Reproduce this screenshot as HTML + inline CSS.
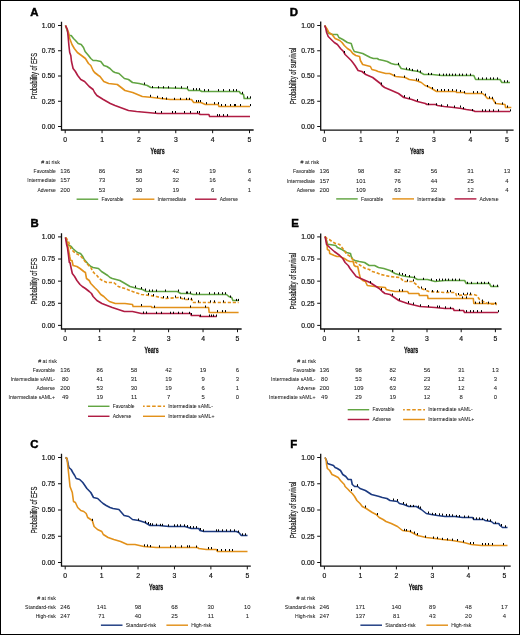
<!DOCTYPE html>
<html><head><meta charset="utf-8"><style>
html,body{margin:0;padding:0;background:#fff;}
body{width:520px;height:635px;overflow:hidden;}
svg{display:block;will-change:transform;font-family:"Liberation Sans", sans-serif;}
</style></head><body>
<svg width="520" height="635" viewBox="0 0 520 635">
<rect x="0" y="0" width="520" height="635" fill="#000"/>
<rect x="1" y="1" width="518" height="633" fill="#fff"/>
<text x="30.3" y="15.9" font-size="11.4" fill="#000" stroke="#000" stroke-width="0.45" font-weight="bold">A</text>
<path d="M61.5 21.8V130H253.65" fill="none" stroke="#111" stroke-width="1.3"/>
<path d="M58 126.5H61.5" stroke="#111" stroke-width="1"/>
<text x="55" y="128.95" font-size="6.8" fill="#111" stroke="#111" stroke-width="0.18" text-anchor="end">0.00</text>
<path d="M58 101.25H61.5" stroke="#111" stroke-width="1"/>
<text x="55" y="103.7" font-size="6.8" fill="#111" stroke="#111" stroke-width="0.18" text-anchor="end">0.25</text>
<path d="M58 76H61.5" stroke="#111" stroke-width="1"/>
<text x="55" y="78.45" font-size="6.8" fill="#111" stroke="#111" stroke-width="0.18" text-anchor="end">0.50</text>
<path d="M58 50.75H61.5" stroke="#111" stroke-width="1"/>
<text x="55" y="53.2" font-size="6.8" fill="#111" stroke="#111" stroke-width="0.18" text-anchor="end">0.75</text>
<path d="M58 25.5H61.5" stroke="#111" stroke-width="1"/>
<text x="55" y="27.95" font-size="6.8" fill="#111" stroke="#111" stroke-width="0.18" text-anchor="end">1.00</text>
<path d="M65.2 130V133.2" stroke="#111" stroke-width="1"/>
<text x="65.2" y="142.35" font-size="6.8" fill="#111" stroke="#111" stroke-width="0.18" text-anchor="middle">0</text>
<path d="M102.06 130V133.2" stroke="#111" stroke-width="1"/>
<text x="102.06" y="142.35" font-size="6.8" fill="#111" stroke="#111" stroke-width="0.18" text-anchor="middle">1</text>
<path d="M138.92 130V133.2" stroke="#111" stroke-width="1"/>
<text x="138.92" y="142.35" font-size="6.8" fill="#111" stroke="#111" stroke-width="0.18" text-anchor="middle">2</text>
<path d="M175.78 130V133.2" stroke="#111" stroke-width="1"/>
<text x="175.78" y="142.35" font-size="6.8" fill="#111" stroke="#111" stroke-width="0.18" text-anchor="middle">3</text>
<path d="M212.64 130V133.2" stroke="#111" stroke-width="1"/>
<text x="212.64" y="142.35" font-size="6.8" fill="#111" stroke="#111" stroke-width="0.18" text-anchor="middle">4</text>
<path d="M249.5 130V133.2" stroke="#111" stroke-width="1"/>
<text x="249.5" y="142.35" font-size="6.8" fill="#111" stroke="#111" stroke-width="0.18" text-anchor="middle">5</text>
<text x="0" y="0" font-size="8.9" fill="#1a1a1a" stroke="#1a1a1a" stroke-width="0.22" text-anchor="middle" textLength="46.3" lengthAdjust="spacingAndGlyphs" transform="translate(36.7 76) rotate(-90)">Probability of EFS</text>
<text x="157.57" y="154.2" font-size="9" fill="#111" stroke="#111" stroke-width="0.3" text-anchor="middle" textLength="14.1" lengthAdjust="spacingAndGlyphs" font-weight="bold">Years</text>
<text x="59.8" y="164" font-size="6.1" fill="#1a1a1a" stroke="#1a1a1a" stroke-width="0.05" text-anchor="end" textLength="18.6" lengthAdjust="spacingAndGlyphs"># at risk</text>
<text x="55.8" y="173.15" font-size="6.1" fill="#1a1a1a" stroke="#1a1a1a" stroke-width="0.05" text-anchor="end" textLength="22.2" lengthAdjust="spacingAndGlyphs">Favorable</text>
<text x="65.2" y="173.05" font-size="5.9" fill="#1a1a1a" stroke="#1a1a1a" stroke-width="0.05" text-anchor="middle">136</text>
<text x="102.06" y="173.05" font-size="5.9" fill="#1a1a1a" stroke="#1a1a1a" stroke-width="0.05" text-anchor="middle">86</text>
<text x="138.92" y="173.05" font-size="5.9" fill="#1a1a1a" stroke="#1a1a1a" stroke-width="0.05" text-anchor="middle">58</text>
<text x="175.78" y="173.05" font-size="5.9" fill="#1a1a1a" stroke="#1a1a1a" stroke-width="0.05" text-anchor="middle">42</text>
<text x="212.64" y="173.05" font-size="5.9" fill="#1a1a1a" stroke="#1a1a1a" stroke-width="0.05" text-anchor="middle">19</text>
<text x="249.5" y="173.05" font-size="5.9" fill="#1a1a1a" stroke="#1a1a1a" stroke-width="0.05" text-anchor="middle">6</text>
<text x="55.8" y="182.45" font-size="6.1" fill="#1a1a1a" stroke="#1a1a1a" stroke-width="0.05" text-anchor="end" textLength="28.5" lengthAdjust="spacingAndGlyphs">Intermediate</text>
<text x="65.2" y="182.35" font-size="5.9" fill="#1a1a1a" stroke="#1a1a1a" stroke-width="0.05" text-anchor="middle">157</text>
<text x="102.06" y="182.35" font-size="5.9" fill="#1a1a1a" stroke="#1a1a1a" stroke-width="0.05" text-anchor="middle">73</text>
<text x="138.92" y="182.35" font-size="5.9" fill="#1a1a1a" stroke="#1a1a1a" stroke-width="0.05" text-anchor="middle">50</text>
<text x="175.78" y="182.35" font-size="5.9" fill="#1a1a1a" stroke="#1a1a1a" stroke-width="0.05" text-anchor="middle">32</text>
<text x="212.64" y="182.35" font-size="5.9" fill="#1a1a1a" stroke="#1a1a1a" stroke-width="0.05" text-anchor="middle">16</text>
<text x="249.5" y="182.35" font-size="5.9" fill="#1a1a1a" stroke="#1a1a1a" stroke-width="0.05" text-anchor="middle">4</text>
<text x="55.8" y="191.75" font-size="6.1" fill="#1a1a1a" stroke="#1a1a1a" stroke-width="0.05" text-anchor="end" textLength="18.4" lengthAdjust="spacingAndGlyphs">Adverse</text>
<text x="65.2" y="191.65" font-size="5.9" fill="#1a1a1a" stroke="#1a1a1a" stroke-width="0.05" text-anchor="middle">200</text>
<text x="102.06" y="191.65" font-size="5.9" fill="#1a1a1a" stroke="#1a1a1a" stroke-width="0.05" text-anchor="middle">53</text>
<text x="138.92" y="191.65" font-size="5.9" fill="#1a1a1a" stroke="#1a1a1a" stroke-width="0.05" text-anchor="middle">30</text>
<text x="175.78" y="191.65" font-size="5.9" fill="#1a1a1a" stroke="#1a1a1a" stroke-width="0.05" text-anchor="middle">19</text>
<text x="212.64" y="191.65" font-size="5.9" fill="#1a1a1a" stroke="#1a1a1a" stroke-width="0.05" text-anchor="middle">6</text>
<text x="249.5" y="191.65" font-size="5.9" fill="#1a1a1a" stroke="#1a1a1a" stroke-width="0.05" text-anchor="middle">1</text>
<path d="M76.6 199.2H98.2" stroke="#62a543" stroke-width="1.45"/>
<text x="101.4" y="200.95" font-size="6.1" fill="#1a1a1a" stroke="#1a1a1a" stroke-width="0.05" textLength="22.2" lengthAdjust="spacingAndGlyphs">Favorable</text>
<path d="M132.6 199.2H154.4" stroke="#e2911a" stroke-width="1.45"/>
<text x="157.6" y="200.95" font-size="6.1" fill="#1a1a1a" stroke="#1a1a1a" stroke-width="0.05" textLength="28.7" lengthAdjust="spacingAndGlyphs">Intermediate</text>
<path d="M195 199.2H216.6" stroke="#b01c43" stroke-width="1.45"/>
<text x="219.8" y="200.95" font-size="6.1" fill="#1a1a1a" stroke="#1a1a1a" stroke-width="0.05" textLength="18.2" lengthAdjust="spacingAndGlyphs">Adverse</text>
<polyline points="65.5,25.5 68.9,35.5 71.2,35.5 73.5,38.5 75.5,40.5 78.2,43.5 81.2,44.5 83.5,47.5 85.1,51.5 88.5,55.5 90.8,58.5 93.1,60.5 96.2,60.5 100.8,61.5 103.8,65.5 106.9,66.5 110,68.5 113,71.5 115,72.5 119,73.5 124.4,78.5 128.5,79.5 132.5,82.5 139.2,83.5 147.3,85.5 150.7,87.5 187.2,88.5 188.7,90.5 200.2,90.5 201.6,91.5 239.2,91.5 240.6,93.5 243.5,94.5 244.2,98.5 250.7,98.5" fill="none" stroke="#62a543" stroke-width="1.6" stroke-linejoin="round"/>
<polyline points="65.5,25.5 68.5,32.5 69.7,38.5 72,44.5 74.3,48.5 77.4,52.5 81.5,55.5 85.4,58.5 88.5,63.5 90.8,65.5 93.1,70.5 94.6,72.5 98.5,75.5 100,76.5 103.8,81.5 108.7,83.5 117.3,84.5 121.2,87.5 125,90.5 132.7,92.5 142.3,96.5 152.7,97.5 160.8,98.5 170.2,99.5 191.5,99.5 193.7,102.5 200.9,102.5 205.3,104.5 218.2,104.5 219,106.5 250,106.5" fill="none" stroke="#e2911a" stroke-width="1.6" stroke-linejoin="round"/>
<polyline points="65.5,25.5 67.4,29.5 68.2,37.5 68.9,45.5 69.7,52.5 70.8,55.5 71.5,61.5 73.1,68.5 75.4,71.5 77.7,75.5 80.8,79.5 84.6,81.5 89.2,86.5 93.1,89.5 94.6,92.5 96.9,95.5 103.3,99.5 110.3,103.5 115,105.5 120.4,107.5 128.5,110.5 136.5,111.5 147.3,112.5 158,113.5 198.8,113.5 200.2,114.5 208.9,114.5 209.6,116.5 250,116.5" fill="none" stroke="#b01c43" stroke-width="1.6" stroke-linejoin="round"/>
<path d="M144.5 82.5V84.6" stroke="#000" stroke-width="1.05"/>
<path d="M152.5 86V88.1" stroke="#000" stroke-width="1.05"/>
<path d="M158.5 86.2V88.3" stroke="#000" stroke-width="1.05"/>
<path d="M163.5 86.2V88.3" stroke="#000" stroke-width="1.05"/>
<path d="M168.5 86.2V88.3" stroke="#000" stroke-width="1.05"/>
<path d="M175.5 86.2V88.3" stroke="#000" stroke-width="1.05"/>
<path d="M181.5 86.2V88.3" stroke="#000" stroke-width="1.05"/>
<path d="M187.5 86.2V88.3" stroke="#000" stroke-width="1.05"/>
<path d="M193.5 88.1V90.2" stroke="#000" stroke-width="1.05"/>
<path d="M196.5 88.1V90.2" stroke="#000" stroke-width="1.05"/>
<path d="M199.5 88.1V90.2" stroke="#000" stroke-width="1.05"/>
<path d="M204.5 89.1V91.2" stroke="#000" stroke-width="1.05"/>
<path d="M208.5 89.1V91.2" stroke="#000" stroke-width="1.05"/>
<path d="M218.5 89.1V91.2" stroke="#000" stroke-width="1.05"/>
<path d="M223.5 89.1V91.2" stroke="#000" stroke-width="1.05"/>
<path d="M229.5 89.1V91.2" stroke="#000" stroke-width="1.05"/>
<path d="M233.5 89.1V91.2" stroke="#000" stroke-width="1.05"/>
<path d="M236.5 89.1V91.2" stroke="#000" stroke-width="1.05"/>
<path d="M242.5 91.8V93.9" stroke="#000" stroke-width="1.05"/>
<path d="M247.5 96.3V98.4" stroke="#000" stroke-width="1.05"/>
<path d="M250.5 96.3V98.4" stroke="#000" stroke-width="1.05"/>
<path d="M150.5 94.8V96.9" stroke="#000" stroke-width="1.05"/>
<path d="M157.5 95.8V97.9" stroke="#000" stroke-width="1.05"/>
<path d="M162.5 97V99.1" stroke="#000" stroke-width="1.05"/>
<path d="M166.5 97.5V99.6" stroke="#000" stroke-width="1.05"/>
<path d="M174.5 97.8V99.9" stroke="#000" stroke-width="1.05"/>
<path d="M180.5 97.8V99.9" stroke="#000" stroke-width="1.05"/>
<path d="M186.5 97.8V99.9" stroke="#000" stroke-width="1.05"/>
<path d="M189.5 97.8V99.9" stroke="#000" stroke-width="1.05"/>
<path d="M196.5 100V102.1" stroke="#000" stroke-width="1.05"/>
<path d="M198.5 100V102.1" stroke="#000" stroke-width="1.05"/>
<path d="M200.5 100V102.1" stroke="#000" stroke-width="1.05"/>
<path d="M206.5 102.1V104.2" stroke="#000" stroke-width="1.05"/>
<path d="M214.5 102.1V104.2" stroke="#000" stroke-width="1.05"/>
<path d="M218.5 102.1V104.2" stroke="#000" stroke-width="1.05"/>
<path d="M221.5 104V106.1" stroke="#000" stroke-width="1.05"/>
<path d="M225.5 104V106.1" stroke="#000" stroke-width="1.05"/>
<path d="M230.5 104V106.1" stroke="#000" stroke-width="1.05"/>
<path d="M234.5 104V106.1" stroke="#000" stroke-width="1.05"/>
<path d="M235.5 104V106.1" stroke="#000" stroke-width="1.05"/>
<path d="M240.5 104V106.1" stroke="#000" stroke-width="1.05"/>
<path d="M250.5 104V106.1" stroke="#000" stroke-width="1.05"/>
<path d="M155.5 111V113.1" stroke="#000" stroke-width="1.05"/>
<path d="M161.5 111V113.1" stroke="#000" stroke-width="1.05"/>
<path d="M172.5 111V113.1" stroke="#000" stroke-width="1.05"/>
<path d="M175.5 111V113.1" stroke="#000" stroke-width="1.05"/>
<path d="M184.5 111V113.1" stroke="#000" stroke-width="1.05"/>
<path d="M190.5 111V113.1" stroke="#000" stroke-width="1.05"/>
<path d="M197.5 111V113.1" stroke="#000" stroke-width="1.05"/>
<path d="M199.5 111V113.1" stroke="#000" stroke-width="1.05"/>
<path d="M217.5 114.1V116.2" stroke="#000" stroke-width="1.05"/>
<path d="M219.5 114.1V116.2" stroke="#000" stroke-width="1.05"/>
<path d="M223.5 114.1V116.2" stroke="#000" stroke-width="1.05"/>
<path d="M227.5 114.1V116.2" stroke="#000" stroke-width="1.05"/>
<text x="289.8" y="16.1" font-size="11.4" fill="#000" stroke="#000" stroke-width="0.45" font-weight="bold">D</text>
<path d="M320.7 21.5V130.2H513.6" fill="none" stroke="#111" stroke-width="1.3"/>
<path d="M317.2 126.5H320.7" stroke="#111" stroke-width="1"/>
<text x="314.5" y="128.95" font-size="6.8" fill="#111" stroke="#111" stroke-width="0.18" text-anchor="end">0.00</text>
<path d="M317.2 101.25H320.7" stroke="#111" stroke-width="1"/>
<text x="314.5" y="103.7" font-size="6.8" fill="#111" stroke="#111" stroke-width="0.18" text-anchor="end">0.25</text>
<path d="M317.2 76H320.7" stroke="#111" stroke-width="1"/>
<text x="314.5" y="78.45" font-size="6.8" fill="#111" stroke="#111" stroke-width="0.18" text-anchor="end">0.50</text>
<path d="M317.2 50.75H320.7" stroke="#111" stroke-width="1"/>
<text x="314.5" y="53.2" font-size="6.8" fill="#111" stroke="#111" stroke-width="0.18" text-anchor="end">0.75</text>
<path d="M317.2 25.5H320.7" stroke="#111" stroke-width="1"/>
<text x="314.5" y="27.95" font-size="6.8" fill="#111" stroke="#111" stroke-width="0.18" text-anchor="end">1.00</text>
<path d="M324.4 130.2V133.4" stroke="#111" stroke-width="1"/>
<text x="324.4" y="142.35" font-size="6.8" fill="#111" stroke="#111" stroke-width="0.18" text-anchor="middle">0</text>
<path d="M360.92 130.2V133.4" stroke="#111" stroke-width="1"/>
<text x="360.92" y="142.35" font-size="6.8" fill="#111" stroke="#111" stroke-width="0.18" text-anchor="middle">1</text>
<path d="M397.44 130.2V133.4" stroke="#111" stroke-width="1"/>
<text x="397.44" y="142.35" font-size="6.8" fill="#111" stroke="#111" stroke-width="0.18" text-anchor="middle">2</text>
<path d="M433.96 130.2V133.4" stroke="#111" stroke-width="1"/>
<text x="433.96" y="142.35" font-size="6.8" fill="#111" stroke="#111" stroke-width="0.18" text-anchor="middle">3</text>
<path d="M470.48 130.2V133.4" stroke="#111" stroke-width="1"/>
<text x="470.48" y="142.35" font-size="6.8" fill="#111" stroke="#111" stroke-width="0.18" text-anchor="middle">4</text>
<path d="M507 130.2V133.4" stroke="#111" stroke-width="1"/>
<text x="507" y="142.35" font-size="6.8" fill="#111" stroke="#111" stroke-width="0.18" text-anchor="middle">5</text>
<text x="0" y="0" font-size="8.9" fill="#1a1a1a" stroke="#1a1a1a" stroke-width="0.22" text-anchor="middle" textLength="56.7" lengthAdjust="spacingAndGlyphs" transform="translate(296 76) rotate(-90)">Probability of survival</text>
<text x="417.15" y="154.2" font-size="9" fill="#111" stroke="#111" stroke-width="0.3" text-anchor="middle" textLength="14.1" lengthAdjust="spacingAndGlyphs" font-weight="bold">Years</text>
<text x="319.2" y="164.4" font-size="6.1" fill="#1a1a1a" stroke="#1a1a1a" stroke-width="0.05" text-anchor="end" textLength="18.6" lengthAdjust="spacingAndGlyphs"># at risk</text>
<text x="315.1" y="173.35" font-size="6.1" fill="#1a1a1a" stroke="#1a1a1a" stroke-width="0.05" text-anchor="end" textLength="22" lengthAdjust="spacingAndGlyphs">Favorable</text>
<text x="324.4" y="173.25" font-size="5.9" fill="#1a1a1a" stroke="#1a1a1a" stroke-width="0.05" text-anchor="middle">136</text>
<text x="360.92" y="173.25" font-size="5.9" fill="#1a1a1a" stroke="#1a1a1a" stroke-width="0.05" text-anchor="middle">98</text>
<text x="397.44" y="173.25" font-size="5.9" fill="#1a1a1a" stroke="#1a1a1a" stroke-width="0.05" text-anchor="middle">82</text>
<text x="433.96" y="173.25" font-size="5.9" fill="#1a1a1a" stroke="#1a1a1a" stroke-width="0.05" text-anchor="middle">56</text>
<text x="470.48" y="173.25" font-size="5.9" fill="#1a1a1a" stroke="#1a1a1a" stroke-width="0.05" text-anchor="middle">31</text>
<text x="507" y="173.25" font-size="5.9" fill="#1a1a1a" stroke="#1a1a1a" stroke-width="0.05" text-anchor="middle">13</text>
<text x="315.1" y="182.65" font-size="6.1" fill="#1a1a1a" stroke="#1a1a1a" stroke-width="0.05" text-anchor="end" textLength="28.2" lengthAdjust="spacingAndGlyphs">Intermediate</text>
<text x="324.4" y="182.55" font-size="5.9" fill="#1a1a1a" stroke="#1a1a1a" stroke-width="0.05" text-anchor="middle">157</text>
<text x="360.92" y="182.55" font-size="5.9" fill="#1a1a1a" stroke="#1a1a1a" stroke-width="0.05" text-anchor="middle">101</text>
<text x="397.44" y="182.55" font-size="5.9" fill="#1a1a1a" stroke="#1a1a1a" stroke-width="0.05" text-anchor="middle">76</text>
<text x="433.96" y="182.55" font-size="5.9" fill="#1a1a1a" stroke="#1a1a1a" stroke-width="0.05" text-anchor="middle">44</text>
<text x="470.48" y="182.55" font-size="5.9" fill="#1a1a1a" stroke="#1a1a1a" stroke-width="0.05" text-anchor="middle">25</text>
<text x="507" y="182.55" font-size="5.9" fill="#1a1a1a" stroke="#1a1a1a" stroke-width="0.05" text-anchor="middle">4</text>
<text x="315.1" y="191.85" font-size="6.1" fill="#1a1a1a" stroke="#1a1a1a" stroke-width="0.05" text-anchor="end" textLength="18.4" lengthAdjust="spacingAndGlyphs">Adverse</text>
<text x="324.4" y="191.75" font-size="5.9" fill="#1a1a1a" stroke="#1a1a1a" stroke-width="0.05" text-anchor="middle">200</text>
<text x="360.92" y="191.75" font-size="5.9" fill="#1a1a1a" stroke="#1a1a1a" stroke-width="0.05" text-anchor="middle">109</text>
<text x="397.44" y="191.75" font-size="5.9" fill="#1a1a1a" stroke="#1a1a1a" stroke-width="0.05" text-anchor="middle">63</text>
<text x="433.96" y="191.75" font-size="5.9" fill="#1a1a1a" stroke="#1a1a1a" stroke-width="0.05" text-anchor="middle">32</text>
<text x="470.48" y="191.75" font-size="5.9" fill="#1a1a1a" stroke="#1a1a1a" stroke-width="0.05" text-anchor="middle">12</text>
<text x="507" y="191.75" font-size="5.9" fill="#1a1a1a" stroke="#1a1a1a" stroke-width="0.05" text-anchor="middle">4</text>
<path d="M336.2 198.9H357.7" stroke="#62a543" stroke-width="1.45"/>
<text x="360.9" y="200.65" font-size="6.1" fill="#1a1a1a" stroke="#1a1a1a" stroke-width="0.05" textLength="22.4" lengthAdjust="spacingAndGlyphs">Favorable</text>
<path d="M392.3 198.9H414" stroke="#e2911a" stroke-width="1.45"/>
<text x="417.2" y="200.65" font-size="6.1" fill="#1a1a1a" stroke="#1a1a1a" stroke-width="0.05" textLength="28.5" lengthAdjust="spacingAndGlyphs">Intermediate</text>
<path d="M454.6 198.9H476.4" stroke="#b01c43" stroke-width="1.45"/>
<text x="479.6" y="200.65" font-size="6.1" fill="#1a1a1a" stroke="#1a1a1a" stroke-width="0.05" textLength="19" lengthAdjust="spacingAndGlyphs">Adverse</text>
<polyline points="324.7,25.5 327,30.5 328.9,33.5 332.8,34.5 337.4,34.5 338.9,37.5 342.8,39.5 347.4,42.5 351.2,43.5 352.8,48.5 354.3,51.5 358.8,52.5 362.7,53.5 366.5,55.5 370.4,57.5 373.5,58.5 377.3,58.5 378.8,59.5 383.5,60.5 387.3,61.5 391.2,63.5 395,64.5 398.5,64.5 401.2,68.5 406.5,69.5 411.9,70.5 418.6,71.5 424,74.5 432.1,74.5 441.5,75.5 473.8,75.5 475.6,79.5 500,79.5 501.9,82.5 510,82.5" fill="none" stroke="#62a543" stroke-width="1.6" stroke-linejoin="round"/>
<polyline points="324.7,25.5 327.4,29.5 328.9,32.5 332,34.5 335.1,38.5 339.7,40.5 342,42.5 344.3,45.5 347.4,48.5 350.5,50.5 352.8,53.5 355.8,55.5 359.6,56.5 360.4,60.5 362.7,64.5 366.5,65.5 370.4,66.5 371.9,69.5 375.8,70.5 378.1,71.5 381.9,72.5 385.8,73.5 389.6,73.5 391.9,74.5 395.8,76.5 405.2,77.5 409.2,79.5 416,80.5 421.3,82.5 425,85.5 427.9,86.5 431.7,88.5 436.5,91.5 455.8,91.5 456.7,92.5 464.4,92.5 465.4,93.5 482.5,93.5 485,95.5 487.5,98.5 492.5,98.5 495.6,103.5 505,104.5 505.6,107.5 511.3,107.5" fill="none" stroke="#e2911a" stroke-width="1.6" stroke-linejoin="round"/>
<polyline points="324.7,25.5 325.8,28.5 326.6,32.5 328.2,36.5 331.2,39.5 334.3,42.5 337.4,44.5 340.5,48.5 343.5,51.5 345.1,54.5 348.2,57.5 351.2,60.5 352.8,62.5 355,65.5 358.1,70.5 361.9,71.5 365.8,74.5 370.4,76.5 372.7,77.5 376.5,80.5 380.4,83.5 381.9,85.5 384.6,87.5 391.7,90.5 398.5,93.5 403.8,97.5 411.9,99.5 417.3,101.5 425.4,103.5 426.9,104.5 435.6,104.5 437.5,105.5 444.2,106.5 453.8,107.5 461.5,108.5 466.3,109.5 473.1,110.5 475,111.5 510,111.5" fill="none" stroke="#b01c43" stroke-width="1.6" stroke-linejoin="round"/>
<path d="M398.5 62.8V64.9" stroke="#000" stroke-width="1.05"/>
<path d="M406.5 67.5V69.6" stroke="#000" stroke-width="1.05"/>
<path d="M409.5 68V70.1" stroke="#000" stroke-width="1.05"/>
<path d="M412.5 68.9V71" stroke="#000" stroke-width="1.05"/>
<path d="M417.5 69.5V71.6" stroke="#000" stroke-width="1.05"/>
<path d="M420.5 70.5V72.6" stroke="#000" stroke-width="1.05"/>
<path d="M428.5 72.9V75" stroke="#000" stroke-width="1.05"/>
<path d="M431.5 72.9V75" stroke="#000" stroke-width="1.05"/>
<path d="M439.5 73.6V75.7" stroke="#000" stroke-width="1.05"/>
<path d="M443.5 73.6V75.7" stroke="#000" stroke-width="1.05"/>
<path d="M446.5 73.6V75.7" stroke="#000" stroke-width="1.05"/>
<path d="M449.5 73.6V75.7" stroke="#000" stroke-width="1.05"/>
<path d="M452.5 73.6V75.7" stroke="#000" stroke-width="1.05"/>
<path d="M455.5 73.6V75.7" stroke="#000" stroke-width="1.05"/>
<path d="M459.5 73.6V75.7" stroke="#000" stroke-width="1.05"/>
<path d="M462.5 73.6V75.7" stroke="#000" stroke-width="1.05"/>
<path d="M466.5 73.6V75.7" stroke="#000" stroke-width="1.05"/>
<path d="M470.5 73.6V75.7" stroke="#000" stroke-width="1.05"/>
<path d="M478.5 77.4V79.5" stroke="#000" stroke-width="1.05"/>
<path d="M482.5 77.4V79.5" stroke="#000" stroke-width="1.05"/>
<path d="M486.5 77.4V79.5" stroke="#000" stroke-width="1.05"/>
<path d="M490.5 77.4V79.5" stroke="#000" stroke-width="1.05"/>
<path d="M493.5 77.4V79.5" stroke="#000" stroke-width="1.05"/>
<path d="M497.5 77.4V79.5" stroke="#000" stroke-width="1.05"/>
<path d="M504.5 80.3V82.4" stroke="#000" stroke-width="1.05"/>
<path d="M507.5 80.3V82.4" stroke="#000" stroke-width="1.05"/>
<path d="M394.5 74.2V76.3" stroke="#000" stroke-width="1.05"/>
<path d="M404.5 75.6V77.7" stroke="#000" stroke-width="1.05"/>
<path d="M416.5 78.3V80.4" stroke="#000" stroke-width="1.05"/>
<path d="M418.5 78.8V80.9" stroke="#000" stroke-width="1.05"/>
<path d="M427.5 85V87.1" stroke="#000" stroke-width="1.05"/>
<path d="M432.5 87V89.1" stroke="#000" stroke-width="1.05"/>
<path d="M437.5 89V91.1" stroke="#000" stroke-width="1.05"/>
<path d="M441.5 89V91.1" stroke="#000" stroke-width="1.05"/>
<path d="M444.5 89V91.1" stroke="#000" stroke-width="1.05"/>
<path d="M448.5 89V91.1" stroke="#000" stroke-width="1.05"/>
<path d="M452.5 89V91.1" stroke="#000" stroke-width="1.05"/>
<path d="M456.5 89.3V91.4" stroke="#000" stroke-width="1.05"/>
<path d="M460.5 90V92.1" stroke="#000" stroke-width="1.05"/>
<path d="M464.5 91.1V93.2" stroke="#000" stroke-width="1.05"/>
<path d="M473.5 91.1V93.2" stroke="#000" stroke-width="1.05"/>
<path d="M477.5 91.1V93.2" stroke="#000" stroke-width="1.05"/>
<path d="M481.5 91.1V93.2" stroke="#000" stroke-width="1.05"/>
<path d="M485.5 93.6V95.7" stroke="#000" stroke-width="1.05"/>
<path d="M489.5 96.4V98.5" stroke="#000" stroke-width="1.05"/>
<path d="M492.5 96.8V98.9" stroke="#000" stroke-width="1.05"/>
<path d="M495.5 101.8V103.9" stroke="#000" stroke-width="1.05"/>
<path d="M502.5 102.4V104.5" stroke="#000" stroke-width="1.05"/>
<path d="M507.5 105.5V107.6" stroke="#000" stroke-width="1.05"/>
<path d="M344.5 51V53.1" stroke="#000" stroke-width="1.05"/>
<path d="M364.5 71V73.1" stroke="#000" stroke-width="1.05"/>
<path d="M381.5 82.5V84.6" stroke="#000" stroke-width="1.05"/>
<path d="M404.5 95.1V97.2" stroke="#000" stroke-width="1.05"/>
<path d="M409.5 96.8V98.9" stroke="#000" stroke-width="1.05"/>
<path d="M417.5 99V101.1" stroke="#000" stroke-width="1.05"/>
<path d="M428.5 103V105.1" stroke="#000" stroke-width="1.05"/>
<path d="M436.5 103.2V105.3" stroke="#000" stroke-width="1.05"/>
<path d="M441.5 104.3V106.4" stroke="#000" stroke-width="1.05"/>
<path d="M447.5 104.3V106.4" stroke="#000" stroke-width="1.05"/>
<path d="M454.5 105.5V107.6" stroke="#000" stroke-width="1.05"/>
<path d="M460.5 105.5V107.6" stroke="#000" stroke-width="1.05"/>
<path d="M463.5 107V109.1" stroke="#000" stroke-width="1.05"/>
<path d="M472.5 109V111.1" stroke="#000" stroke-width="1.05"/>
<path d="M482.5 109.3V111.4" stroke="#000" stroke-width="1.05"/>
<path d="M485.5 109.3V111.4" stroke="#000" stroke-width="1.05"/>
<path d="M489.5 109.3V111.4" stroke="#000" stroke-width="1.05"/>
<path d="M493.5 109.3V111.4" stroke="#000" stroke-width="1.05"/>
<path d="M498.5 109.3V111.4" stroke="#000" stroke-width="1.05"/>
<path d="M510.5 109.3V111.4" stroke="#000" stroke-width="1.05"/>
<text x="30.6" y="226.9" font-size="11.4" fill="#000" stroke="#000" stroke-width="0.45" font-weight="bold">B</text>
<path d="M61.5 233.2V329H241.65" fill="none" stroke="#111" stroke-width="1.3"/>
<path d="M58 325.4H61.5" stroke="#111" stroke-width="1"/>
<text x="55" y="327.85" font-size="6.8" fill="#111" stroke="#111" stroke-width="0.18" text-anchor="end">0.00</text>
<path d="M58 303.27H61.5" stroke="#111" stroke-width="1"/>
<text x="55" y="305.72" font-size="6.8" fill="#111" stroke="#111" stroke-width="0.18" text-anchor="end">0.25</text>
<path d="M58 281.15H61.5" stroke="#111" stroke-width="1"/>
<text x="55" y="283.6" font-size="6.8" fill="#111" stroke="#111" stroke-width="0.18" text-anchor="end">0.50</text>
<path d="M58 259.02H61.5" stroke="#111" stroke-width="1"/>
<text x="55" y="261.47" font-size="6.8" fill="#111" stroke="#111" stroke-width="0.18" text-anchor="end">0.75</text>
<path d="M58 236.9H61.5" stroke="#111" stroke-width="1"/>
<text x="55" y="239.35" font-size="6.8" fill="#111" stroke="#111" stroke-width="0.18" text-anchor="end">1.00</text>
<path d="M65.2 329V332.2" stroke="#111" stroke-width="1"/>
<text x="65.2" y="341.35" font-size="6.8" fill="#111" stroke="#111" stroke-width="0.18" text-anchor="middle">0</text>
<path d="M99.66 329V332.2" stroke="#111" stroke-width="1"/>
<text x="99.66" y="341.35" font-size="6.8" fill="#111" stroke="#111" stroke-width="0.18" text-anchor="middle">1</text>
<path d="M134.12 329V332.2" stroke="#111" stroke-width="1"/>
<text x="134.12" y="341.35" font-size="6.8" fill="#111" stroke="#111" stroke-width="0.18" text-anchor="middle">2</text>
<path d="M168.58 329V332.2" stroke="#111" stroke-width="1"/>
<text x="168.58" y="341.35" font-size="6.8" fill="#111" stroke="#111" stroke-width="0.18" text-anchor="middle">3</text>
<path d="M203.04 329V332.2" stroke="#111" stroke-width="1"/>
<text x="203.04" y="341.35" font-size="6.8" fill="#111" stroke="#111" stroke-width="0.18" text-anchor="middle">4</text>
<path d="M237.5 329V332.2" stroke="#111" stroke-width="1"/>
<text x="237.5" y="341.35" font-size="6.8" fill="#111" stroke="#111" stroke-width="0.18" text-anchor="middle">5</text>
<text x="0" y="0" font-size="8.9" fill="#1a1a1a" stroke="#1a1a1a" stroke-width="0.22" text-anchor="middle" textLength="46.6" lengthAdjust="spacingAndGlyphs" transform="translate(36.7 281.15) rotate(-90)">Probability of EFS</text>
<text x="151.57" y="352.9" font-size="9" fill="#111" stroke="#111" stroke-width="0.3" text-anchor="middle" textLength="14.1" lengthAdjust="spacingAndGlyphs" font-weight="bold">Years</text>
<text x="56.8" y="363.3" font-size="6.1" fill="#1a1a1a" stroke="#1a1a1a" stroke-width="0.05" text-anchor="end" textLength="18.6" lengthAdjust="spacingAndGlyphs"># at risk</text>
<text x="55" y="371.95" font-size="6.1" fill="#1a1a1a" stroke="#1a1a1a" stroke-width="0.05" text-anchor="end" textLength="22.2" lengthAdjust="spacingAndGlyphs">Favorable</text>
<text x="65.2" y="371.85" font-size="5.9" fill="#1a1a1a" stroke="#1a1a1a" stroke-width="0.05" text-anchor="middle">136</text>
<text x="99.66" y="371.85" font-size="5.9" fill="#1a1a1a" stroke="#1a1a1a" stroke-width="0.05" text-anchor="middle">86</text>
<text x="134.12" y="371.85" font-size="5.9" fill="#1a1a1a" stroke="#1a1a1a" stroke-width="0.05" text-anchor="middle">58</text>
<text x="168.58" y="371.85" font-size="5.9" fill="#1a1a1a" stroke="#1a1a1a" stroke-width="0.05" text-anchor="middle">42</text>
<text x="203.04" y="371.85" font-size="5.9" fill="#1a1a1a" stroke="#1a1a1a" stroke-width="0.05" text-anchor="middle">19</text>
<text x="237.5" y="371.85" font-size="5.9" fill="#1a1a1a" stroke="#1a1a1a" stroke-width="0.05" text-anchor="middle">6</text>
<text x="55" y="381.05" font-size="6.1" fill="#1a1a1a" stroke="#1a1a1a" stroke-width="0.05" text-anchor="end" textLength="44.3" lengthAdjust="spacingAndGlyphs">Intermediate sAML-</text>
<text x="65.2" y="380.95" font-size="5.9" fill="#1a1a1a" stroke="#1a1a1a" stroke-width="0.05" text-anchor="middle">80</text>
<text x="99.66" y="380.95" font-size="5.9" fill="#1a1a1a" stroke="#1a1a1a" stroke-width="0.05" text-anchor="middle">41</text>
<text x="134.12" y="380.95" font-size="5.9" fill="#1a1a1a" stroke="#1a1a1a" stroke-width="0.05" text-anchor="middle">31</text>
<text x="168.58" y="380.95" font-size="5.9" fill="#1a1a1a" stroke="#1a1a1a" stroke-width="0.05" text-anchor="middle">19</text>
<text x="203.04" y="380.95" font-size="5.9" fill="#1a1a1a" stroke="#1a1a1a" stroke-width="0.05" text-anchor="middle">9</text>
<text x="237.5" y="380.95" font-size="5.9" fill="#1a1a1a" stroke="#1a1a1a" stroke-width="0.05" text-anchor="middle">3</text>
<text x="55" y="389.95" font-size="6.1" fill="#1a1a1a" stroke="#1a1a1a" stroke-width="0.05" text-anchor="end" textLength="18.4" lengthAdjust="spacingAndGlyphs">Adverse</text>
<text x="65.2" y="389.85" font-size="5.9" fill="#1a1a1a" stroke="#1a1a1a" stroke-width="0.05" text-anchor="middle">200</text>
<text x="99.66" y="389.85" font-size="5.9" fill="#1a1a1a" stroke="#1a1a1a" stroke-width="0.05" text-anchor="middle">53</text>
<text x="134.12" y="389.85" font-size="5.9" fill="#1a1a1a" stroke="#1a1a1a" stroke-width="0.05" text-anchor="middle">30</text>
<text x="168.58" y="389.85" font-size="5.9" fill="#1a1a1a" stroke="#1a1a1a" stroke-width="0.05" text-anchor="middle">19</text>
<text x="203.04" y="389.85" font-size="5.9" fill="#1a1a1a" stroke="#1a1a1a" stroke-width="0.05" text-anchor="middle">6</text>
<text x="237.5" y="389.85" font-size="5.9" fill="#1a1a1a" stroke="#1a1a1a" stroke-width="0.05" text-anchor="middle">1</text>
<text x="55" y="398.85" font-size="6.1" fill="#1a1a1a" stroke="#1a1a1a" stroke-width="0.05" text-anchor="end" textLength="46.4" lengthAdjust="spacingAndGlyphs">Intermediate sAML+</text>
<text x="65.2" y="398.75" font-size="5.9" fill="#1a1a1a" stroke="#1a1a1a" stroke-width="0.05" text-anchor="middle">49</text>
<text x="99.66" y="398.75" font-size="5.9" fill="#1a1a1a" stroke="#1a1a1a" stroke-width="0.05" text-anchor="middle">19</text>
<text x="134.12" y="398.75" font-size="5.9" fill="#1a1a1a" stroke="#1a1a1a" stroke-width="0.05" text-anchor="middle">11</text>
<text x="168.58" y="398.75" font-size="5.9" fill="#1a1a1a" stroke="#1a1a1a" stroke-width="0.05" text-anchor="middle">7</text>
<text x="203.04" y="398.75" font-size="5.9" fill="#1a1a1a" stroke="#1a1a1a" stroke-width="0.05" text-anchor="middle">5</text>
<text x="237.5" y="398.75" font-size="5.9" fill="#1a1a1a" stroke="#1a1a1a" stroke-width="0.05" text-anchor="middle">0</text>
<path d="M88 406.3H109.5" stroke="#62a543" stroke-width="1.45"/>
<text x="112.7" y="408.05" font-size="6.1" fill="#1a1a1a" stroke="#1a1a1a" stroke-width="0.05" textLength="21.8" lengthAdjust="spacingAndGlyphs">Favorable</text>
<path d="M143 406.3H165" stroke="#e2911a" stroke-width="1.45" stroke-dasharray="3.6 1.9" stroke-dashoffset="1.9"/>
<text x="168.2" y="408.05" font-size="6.1" fill="#1a1a1a" stroke="#1a1a1a" stroke-width="0.05" textLength="44.7" lengthAdjust="spacingAndGlyphs">Intermediate sAML-</text>
<path d="M88 416.3H109.5" stroke="#b01c43" stroke-width="1.45"/>
<text x="112.7" y="418.05" font-size="6.1" fill="#1a1a1a" stroke="#1a1a1a" stroke-width="0.05" textLength="18.7" lengthAdjust="spacingAndGlyphs">Adverse</text>
<path d="M143 416.3H165" stroke="#e2911a" stroke-width="1.45"/>
<text x="168.2" y="418.05" font-size="6.1" fill="#1a1a1a" stroke="#1a1a1a" stroke-width="0.05" textLength="46.2" lengthAdjust="spacingAndGlyphs">Intermediate sAML+</text>
<polyline points="65.5,237.5 66.6,240.5 67.8,244.5 69.3,245.5 71.2,246.5 72.8,248.5 75.1,250.5 77.4,252.5 80.5,253.5 82.8,256.5 84.3,259.5 87.7,263.5 90.8,266.5 93.1,267.5 98.5,268.5 101.5,271.5 104.6,273.5 107.7,275.5 110,277.5 112.3,278.5 119.8,280.5 125,283.5 130,286.5 137.5,288.5 142.5,289.5 146.3,291.5 177.5,291.5 180.6,293.5 190,293.5 193.1,294.5 226.5,294.5 228.8,296.5 231.7,297.5 232.9,300.5 238.6,300.5" fill="none" stroke="#62a543" stroke-width="1.6" stroke-linejoin="round"/>
<polyline points="65.5,237.5 68.2,240.5 70.8,248.5 73.5,251.5 76.2,253.5 79.7,255.5 82,257.5 86,262.5 91.5,268.5 91.9,270.5 94.6,273.5 96.9,275.5 99.2,278.5 102.3,280.5 106.9,282.5 113.8,282.5 118.3,286.5 125,288.5 132.5,291.5 141.3,294.5 150,295.5 156.3,296.5 165,298.5 178.8,297.5 185,299.5 191.9,299.5 192.5,302.5 238.6,302.5" fill="none" stroke="#e2911a" stroke-width="1.6" stroke-linejoin="round" stroke-dasharray="3.2 1.8"/>
<polyline points="65.5,237.5 67.5,244.5 68.5,249.5 69.7,256.5 70.5,260.5 72,260.5 73.1,265.5 76.9,266.5 80,268.5 83.8,271.5 85.4,272.5 86.5,278.5 89.2,280.5 90.8,283.5 94.6,287.5 97.7,290.5 100.8,294.5 103.8,296.5 106.9,299.5 109.4,301.5 115.3,303.5 125,303.5 132.5,304.5 133.1,306.5 151.3,306.5 151.9,307.5 208.6,307.5 209.2,312.5 238.6,312.5" fill="none" stroke="#e2911a" stroke-width="1.6" stroke-linejoin="round"/>
<polyline points="65.5,237.5 66.6,244.5 67.4,247.5 68.5,255.5 69.3,262.5 70,262.5 70.8,266.5 72.3,273.5 74.6,276.5 76.9,280.5 80,284.5 82.3,286.5 85.4,288.5 89.2,291.5 91.5,293.5 93.1,296.5 96.9,300.5 101.9,303.5 112.3,307.5 124.3,311.5 132.5,311.5 141.3,313.5 152.5,313.5 190.8,313.5 191.3,315.5 199.4,315.5 200,316.5 216.7,316.5" fill="none" stroke="#b01c43" stroke-width="1.6" stroke-linejoin="round"/>
<path d="M135.5 285.5V287.6" stroke="#000" stroke-width="1.05"/>
<path d="M141.5 287V289.1" stroke="#000" stroke-width="1.05"/>
<path d="M145.5 288.5V290.6" stroke="#000" stroke-width="1.05"/>
<path d="M149.5 289.5V291.6" stroke="#000" stroke-width="1.05"/>
<path d="M152.5 289.5V291.6" stroke="#000" stroke-width="1.05"/>
<path d="M156.5 289.5V291.6" stroke="#000" stroke-width="1.05"/>
<path d="M165.5 289.5V291.6" stroke="#000" stroke-width="1.05"/>
<path d="M178.5 289.5V291.6" stroke="#000" stroke-width="1.05"/>
<path d="M186.5 291.5V293.6" stroke="#000" stroke-width="1.05"/>
<path d="M187.5 291.5V293.6" stroke="#000" stroke-width="1.05"/>
<path d="M190.5 291.5V293.6" stroke="#000" stroke-width="1.05"/>
<path d="M196.5 292.2V294.3" stroke="#000" stroke-width="1.05"/>
<path d="M199.5 292.2V294.3" stroke="#000" stroke-width="1.05"/>
<path d="M209.5 292.2V294.3" stroke="#000" stroke-width="1.05"/>
<path d="M214.5 292.2V294.3" stroke="#000" stroke-width="1.05"/>
<path d="M218.5 292.2V294.3" stroke="#000" stroke-width="1.05"/>
<path d="M222.5 292.2V294.3" stroke="#000" stroke-width="1.05"/>
<path d="M225.5 292.2V294.3" stroke="#000" stroke-width="1.05"/>
<path d="M230.5 295.5V297.6" stroke="#000" stroke-width="1.05"/>
<path d="M236.5 298.9V301" stroke="#000" stroke-width="1.05"/>
<path d="M238.5 298.9V301" stroke="#000" stroke-width="1.05"/>
<path d="M148.5 293V295.1" stroke="#000" stroke-width="1.05"/>
<path d="M153.5 294V296.1" stroke="#000" stroke-width="1.05"/>
<path d="M163.5 296V298.1" stroke="#000" stroke-width="1.05"/>
<path d="M167.5 296V298.1" stroke="#000" stroke-width="1.05"/>
<path d="M175.5 295.5V297.6" stroke="#000" stroke-width="1.05"/>
<path d="M180.5 296.5V298.6" stroke="#000" stroke-width="1.05"/>
<path d="M184.5 297.4V299.5" stroke="#000" stroke-width="1.05"/>
<path d="M188.5 297.8V299.9" stroke="#000" stroke-width="1.05"/>
<path d="M191.5 297.8V299.9" stroke="#000" stroke-width="1.05"/>
<path d="M198.5 300.3V302.4" stroke="#000" stroke-width="1.05"/>
<path d="M210.5 300.3V302.4" stroke="#000" stroke-width="1.05"/>
<path d="M214.5 300.3V302.4" stroke="#000" stroke-width="1.05"/>
<path d="M223.5 300.3V302.4" stroke="#000" stroke-width="1.05"/>
<path d="M141.5 304V306.1" stroke="#000" stroke-width="1.05"/>
<path d="M154.5 305.6V307.7" stroke="#000" stroke-width="1.05"/>
<path d="M190.5 305.5V307.6" stroke="#000" stroke-width="1.05"/>
<path d="M205.5 305.5V307.6" stroke="#000" stroke-width="1.05"/>
<path d="M217.5 310.1V312.2" stroke="#000" stroke-width="1.05"/>
<path d="M222.5 310.1V312.2" stroke="#000" stroke-width="1.05"/>
<path d="M225.5 310.1V312.2" stroke="#000" stroke-width="1.05"/>
<path d="M143.5 311.5V313.6" stroke="#000" stroke-width="1.05"/>
<path d="M146.5 311.5V313.6" stroke="#000" stroke-width="1.05"/>
<path d="M156.5 311.7V313.8" stroke="#000" stroke-width="1.05"/>
<path d="M161.5 311.7V313.8" stroke="#000" stroke-width="1.05"/>
<path d="M170.5 311.7V313.8" stroke="#000" stroke-width="1.05"/>
<path d="M173.5 311.7V313.8" stroke="#000" stroke-width="1.05"/>
<path d="M178.5 311.7V313.8" stroke="#000" stroke-width="1.05"/>
<path d="M182.5 311.7V313.8" stroke="#000" stroke-width="1.05"/>
<path d="M189.5 311.8V313.9" stroke="#000" stroke-width="1.05"/>
<path d="M191.5 313V315.1" stroke="#000" stroke-width="1.05"/>
<path d="M200.5 314.5V316.6" stroke="#000" stroke-width="1.05"/>
<path d="M209.5 314.5V316.6" stroke="#000" stroke-width="1.05"/>
<path d="M211.5 314.5V316.6" stroke="#000" stroke-width="1.05"/>
<path d="M213.5 314.5V316.6" stroke="#000" stroke-width="1.05"/>
<path d="M216.5 314.5V316.6" stroke="#000" stroke-width="1.05"/>
<text x="291.3" y="226.9" font-size="11.4" fill="#000" stroke="#000" stroke-width="0.45" font-weight="bold">E</text>
<path d="M320.7 233.5V329H501.6" fill="none" stroke="#111" stroke-width="1.3"/>
<path d="M317.2 325.4H320.7" stroke="#111" stroke-width="1"/>
<text x="314.5" y="327.85" font-size="6.8" fill="#111" stroke="#111" stroke-width="0.18" text-anchor="end">0.00</text>
<path d="M317.2 303.27H320.7" stroke="#111" stroke-width="1"/>
<text x="314.5" y="305.72" font-size="6.8" fill="#111" stroke="#111" stroke-width="0.18" text-anchor="end">0.25</text>
<path d="M317.2 281.15H320.7" stroke="#111" stroke-width="1"/>
<text x="314.5" y="283.6" font-size="6.8" fill="#111" stroke="#111" stroke-width="0.18" text-anchor="end">0.50</text>
<path d="M317.2 259.02H320.7" stroke="#111" stroke-width="1"/>
<text x="314.5" y="261.47" font-size="6.8" fill="#111" stroke="#111" stroke-width="0.18" text-anchor="end">0.75</text>
<path d="M317.2 236.9H320.7" stroke="#111" stroke-width="1"/>
<text x="314.5" y="239.35" font-size="6.8" fill="#111" stroke="#111" stroke-width="0.18" text-anchor="end">1.00</text>
<path d="M324.4 329V332.2" stroke="#111" stroke-width="1"/>
<text x="324.4" y="341.35" font-size="6.8" fill="#111" stroke="#111" stroke-width="0.18" text-anchor="middle">0</text>
<path d="M358.6 329V332.2" stroke="#111" stroke-width="1"/>
<text x="358.6" y="341.35" font-size="6.8" fill="#111" stroke="#111" stroke-width="0.18" text-anchor="middle">1</text>
<path d="M392.8 329V332.2" stroke="#111" stroke-width="1"/>
<text x="392.8" y="341.35" font-size="6.8" fill="#111" stroke="#111" stroke-width="0.18" text-anchor="middle">2</text>
<path d="M427 329V332.2" stroke="#111" stroke-width="1"/>
<text x="427" y="341.35" font-size="6.8" fill="#111" stroke="#111" stroke-width="0.18" text-anchor="middle">3</text>
<path d="M461.2 329V332.2" stroke="#111" stroke-width="1"/>
<text x="461.2" y="341.35" font-size="6.8" fill="#111" stroke="#111" stroke-width="0.18" text-anchor="middle">4</text>
<path d="M495.4 329V332.2" stroke="#111" stroke-width="1"/>
<text x="495.4" y="341.35" font-size="6.8" fill="#111" stroke="#111" stroke-width="0.18" text-anchor="middle">5</text>
<text x="0" y="0" font-size="8.9" fill="#1a1a1a" stroke="#1a1a1a" stroke-width="0.22" text-anchor="middle" textLength="56.7" lengthAdjust="spacingAndGlyphs" transform="translate(296 281.15) rotate(-90)">Probability of survival</text>
<text x="411.15" y="352.9" font-size="9" fill="#111" stroke="#111" stroke-width="0.3" text-anchor="middle" textLength="14.1" lengthAdjust="spacingAndGlyphs" font-weight="bold">Years</text>
<text x="315.9" y="363.1" font-size="6.1" fill="#1a1a1a" stroke="#1a1a1a" stroke-width="0.05" text-anchor="end" textLength="18.6" lengthAdjust="spacingAndGlyphs"># at risk</text>
<text x="315.5" y="372.05" font-size="6.1" fill="#1a1a1a" stroke="#1a1a1a" stroke-width="0.05" text-anchor="end" textLength="22.2" lengthAdjust="spacingAndGlyphs">Favorable</text>
<text x="324.4" y="371.95" font-size="5.9" fill="#1a1a1a" stroke="#1a1a1a" stroke-width="0.05" text-anchor="middle">136</text>
<text x="358.6" y="371.95" font-size="5.9" fill="#1a1a1a" stroke="#1a1a1a" stroke-width="0.05" text-anchor="middle">98</text>
<text x="392.8" y="371.95" font-size="5.9" fill="#1a1a1a" stroke="#1a1a1a" stroke-width="0.05" text-anchor="middle">82</text>
<text x="427" y="371.95" font-size="5.9" fill="#1a1a1a" stroke="#1a1a1a" stroke-width="0.05" text-anchor="middle">56</text>
<text x="461.2" y="371.95" font-size="5.9" fill="#1a1a1a" stroke="#1a1a1a" stroke-width="0.05" text-anchor="middle">31</text>
<text x="495.4" y="371.95" font-size="5.9" fill="#1a1a1a" stroke="#1a1a1a" stroke-width="0.05" text-anchor="middle">13</text>
<text x="315.5" y="380.75" font-size="6.1" fill="#1a1a1a" stroke="#1a1a1a" stroke-width="0.05" text-anchor="end" textLength="44.5" lengthAdjust="spacingAndGlyphs">Intermediate sAML-</text>
<text x="324.4" y="380.65" font-size="5.9" fill="#1a1a1a" stroke="#1a1a1a" stroke-width="0.05" text-anchor="middle">80</text>
<text x="358.6" y="380.65" font-size="5.9" fill="#1a1a1a" stroke="#1a1a1a" stroke-width="0.05" text-anchor="middle">53</text>
<text x="392.8" y="380.65" font-size="5.9" fill="#1a1a1a" stroke="#1a1a1a" stroke-width="0.05" text-anchor="middle">43</text>
<text x="427" y="380.65" font-size="5.9" fill="#1a1a1a" stroke="#1a1a1a" stroke-width="0.05" text-anchor="middle">23</text>
<text x="461.2" y="380.65" font-size="5.9" fill="#1a1a1a" stroke="#1a1a1a" stroke-width="0.05" text-anchor="middle">12</text>
<text x="495.4" y="380.65" font-size="5.9" fill="#1a1a1a" stroke="#1a1a1a" stroke-width="0.05" text-anchor="middle">3</text>
<text x="315.5" y="390.25" font-size="6.1" fill="#1a1a1a" stroke="#1a1a1a" stroke-width="0.05" text-anchor="end" textLength="18.4" lengthAdjust="spacingAndGlyphs">Adverse</text>
<text x="324.4" y="390.15" font-size="5.9" fill="#1a1a1a" stroke="#1a1a1a" stroke-width="0.05" text-anchor="middle">200</text>
<text x="358.6" y="390.15" font-size="5.9" fill="#1a1a1a" stroke="#1a1a1a" stroke-width="0.05" text-anchor="middle">109</text>
<text x="392.8" y="390.15" font-size="5.9" fill="#1a1a1a" stroke="#1a1a1a" stroke-width="0.05" text-anchor="middle">63</text>
<text x="427" y="390.15" font-size="5.9" fill="#1a1a1a" stroke="#1a1a1a" stroke-width="0.05" text-anchor="middle">32</text>
<text x="461.2" y="390.15" font-size="5.9" fill="#1a1a1a" stroke="#1a1a1a" stroke-width="0.05" text-anchor="middle">12</text>
<text x="495.4" y="390.15" font-size="5.9" fill="#1a1a1a" stroke="#1a1a1a" stroke-width="0.05" text-anchor="middle">4</text>
<text x="315.5" y="398.95" font-size="6.1" fill="#1a1a1a" stroke="#1a1a1a" stroke-width="0.05" text-anchor="end" textLength="46.5" lengthAdjust="spacingAndGlyphs">Intermediate sAML+</text>
<text x="324.4" y="398.85" font-size="5.9" fill="#1a1a1a" stroke="#1a1a1a" stroke-width="0.05" text-anchor="middle">49</text>
<text x="358.6" y="398.85" font-size="5.9" fill="#1a1a1a" stroke="#1a1a1a" stroke-width="0.05" text-anchor="middle">29</text>
<text x="392.8" y="398.85" font-size="5.9" fill="#1a1a1a" stroke="#1a1a1a" stroke-width="0.05" text-anchor="middle">19</text>
<text x="427" y="398.85" font-size="5.9" fill="#1a1a1a" stroke="#1a1a1a" stroke-width="0.05" text-anchor="middle">12</text>
<text x="461.2" y="398.85" font-size="5.9" fill="#1a1a1a" stroke="#1a1a1a" stroke-width="0.05" text-anchor="middle">8</text>
<text x="495.4" y="398.85" font-size="5.9" fill="#1a1a1a" stroke="#1a1a1a" stroke-width="0.05" text-anchor="middle">0</text>
<path d="M347.7 409.7H369.2" stroke="#62a543" stroke-width="1.45"/>
<text x="372.4" y="411.45" font-size="6.1" fill="#1a1a1a" stroke="#1a1a1a" stroke-width="0.05" textLength="22" lengthAdjust="spacingAndGlyphs">Favorable</text>
<path d="M403.1 409.7H425" stroke="#e2911a" stroke-width="1.45" stroke-dasharray="3.6 1.9" stroke-dashoffset="1.9"/>
<text x="428.2" y="411.45" font-size="6.1" fill="#1a1a1a" stroke="#1a1a1a" stroke-width="0.05" textLength="44.6" lengthAdjust="spacingAndGlyphs">Intermediate sAML-</text>
<path d="M347.7 419.5H369.2" stroke="#b01c43" stroke-width="1.45"/>
<text x="372.4" y="421.25" font-size="6.1" fill="#1a1a1a" stroke="#1a1a1a" stroke-width="0.05" textLength="18.7" lengthAdjust="spacingAndGlyphs">Adverse</text>
<path d="M403.1 419.5H425" stroke="#e2911a" stroke-width="1.45"/>
<text x="428.2" y="421.25" font-size="6.1" fill="#1a1a1a" stroke="#1a1a1a" stroke-width="0.05" textLength="46.1" lengthAdjust="spacingAndGlyphs">Intermediate sAML+</text>
<polyline points="325.1,236.5 327.8,244.5 329.7,244.5 335.8,245.5 337.4,247.5 342,249.5 346.6,252.5 350.5,253.5 351.2,256.5 352.8,259.5 355.1,260.5 359.2,261.5 364.6,262.5 369.2,265.5 374.6,265.5 378.5,267.5 383.8,268.5 390,270.5 395,273.5 401.3,275.5 406.3,276.5 413.8,277.5 417.5,279.5 427.5,279.5 435,281.5 445,280.5 464.6,280.5 466.3,283.5 489.4,283.5 491.1,286.5 498.6,286.5" fill="none" stroke="#62a543" stroke-width="1.6" stroke-linejoin="round"/>
<polyline points="325.1,236.5 327,238.5 329.3,239.5 332,241.5 335.5,243.5 339.7,244.5 342,247.5 344.3,250.5 346.6,254.5 348.9,255.5 352,258.5 354.6,261.5 357.4,263.5 360.5,265.5 365.4,268.5 369.2,269.5 372.3,271.5 376.2,272.5 380.8,274.5 385.4,275.5 390,276.5 400,277.5 403.8,281.5 412.5,281.5 416.3,284.5 418.8,287.5 423.8,289.5 428.8,291.5 445,292.5 455.4,292.5 456.5,295.5 473.8,294.5 476.7,295.5 479.6,299.5 483.1,301.5 487.7,303.5 496.9,304.5" fill="none" stroke="#e2911a" stroke-width="1.6" stroke-linejoin="round" stroke-dasharray="3.2 1.8"/>
<polyline points="325.1,236.5 326.2,239.5 327,244.5 327.4,249.5 329.3,250.5 329.7,253.5 332,254.5 334.3,255.5 337,256.5 340.1,256.5 342,257.5 344.3,258.5 347.4,260.5 350,261.5 353.1,261.5 354.2,265.5 355.8,266.5 357.7,266.5 359.2,273.5 360.4,278.5 362.7,280.5 365.4,281.5 367.3,285.5 374.6,286.5 385.4,287.5 386.2,289.5 390,290.5 395,291.5 407.5,291.5 408.8,293.5 418.8,293.5 419.4,295.5 427.5,295.5 428.1,298.5 473.3,298.5 473.8,303.5 497,303.5" fill="none" stroke="#e2911a" stroke-width="1.6" stroke-linejoin="round"/>
<polyline points="325.1,236.5 326.6,244.5 329.7,247.5 334.3,251.5 339.7,255.5 342.8,258.5 345.1,262.5 348.2,265.5 350,268.5 353.1,272.5 356.2,276.5 360.8,278.5 365.4,280.5 370,282.5 374.6,285.5 379.2,288.5 382.3,291.5 385,293.5 390,294.5 398.8,300.5 407.5,303.5 420,306.5 435,307.5 445,308.5 453.1,308.5 454.2,310.5 463.5,310.5 464.6,312.5 498.1,312.5" fill="none" stroke="#b01c43" stroke-width="1.6" stroke-linejoin="round"/>
<path d="M392.5 270V272.1" stroke="#000" stroke-width="1.05"/>
<path d="M399.5 272.5V274.6" stroke="#000" stroke-width="1.05"/>
<path d="M402.5 273V275.1" stroke="#000" stroke-width="1.05"/>
<path d="M405.5 274V276.1" stroke="#000" stroke-width="1.05"/>
<path d="M409.5 275V277.1" stroke="#000" stroke-width="1.05"/>
<path d="M414.5 275.8V277.9" stroke="#000" stroke-width="1.05"/>
<path d="M423.5 277.8V279.9" stroke="#000" stroke-width="1.05"/>
<path d="M431.5 278.5V280.6" stroke="#000" stroke-width="1.05"/>
<path d="M436.5 279V281.1" stroke="#000" stroke-width="1.05"/>
<path d="M439.5 278.6V280.7" stroke="#000" stroke-width="1.05"/>
<path d="M442.5 278.6V280.7" stroke="#000" stroke-width="1.05"/>
<path d="M445.5 278.6V280.7" stroke="#000" stroke-width="1.05"/>
<path d="M448.5 278.6V280.7" stroke="#000" stroke-width="1.05"/>
<path d="M452.5 278.6V280.7" stroke="#000" stroke-width="1.05"/>
<path d="M455.5 278.6V280.7" stroke="#000" stroke-width="1.05"/>
<path d="M459.5 278.6V280.7" stroke="#000" stroke-width="1.05"/>
<path d="M467.5 281.8V283.9" stroke="#000" stroke-width="1.05"/>
<path d="M471.5 281.8V283.9" stroke="#000" stroke-width="1.05"/>
<path d="M477.5 281.8V283.9" stroke="#000" stroke-width="1.05"/>
<path d="M481.5 281.8V283.9" stroke="#000" stroke-width="1.05"/>
<path d="M484.5 281.8V283.9" stroke="#000" stroke-width="1.05"/>
<path d="M488.5 281.8V283.9" stroke="#000" stroke-width="1.05"/>
<path d="M493.5 284.7V286.8" stroke="#000" stroke-width="1.05"/>
<path d="M497.5 284.7V286.8" stroke="#000" stroke-width="1.05"/>
<path d="M407.5 279.5V281.6" stroke="#000" stroke-width="1.05"/>
<path d="M413.5 279.3V281.4" stroke="#000" stroke-width="1.05"/>
<path d="M421.5 286.5V288.6" stroke="#000" stroke-width="1.05"/>
<path d="M425.5 288V290.1" stroke="#000" stroke-width="1.05"/>
<path d="M432.5 290V292.1" stroke="#000" stroke-width="1.05"/>
<path d="M437.5 290.1V292.2" stroke="#000" stroke-width="1.05"/>
<path d="M447.5 290.1V292.2" stroke="#000" stroke-width="1.05"/>
<path d="M450.5 290.1V292.2" stroke="#000" stroke-width="1.05"/>
<path d="M458.5 293V295.1" stroke="#000" stroke-width="1.05"/>
<path d="M463.5 292.8V294.9" stroke="#000" stroke-width="1.05"/>
<path d="M467.5 292.6V294.7" stroke="#000" stroke-width="1.05"/>
<path d="M470.5 292.5V294.6" stroke="#000" stroke-width="1.05"/>
<path d="M482.5 299.5V301.6" stroke="#000" stroke-width="1.05"/>
<path d="M488.5 301.6V303.7" stroke="#000" stroke-width="1.05"/>
<path d="M495.5 302.2V304.3" stroke="#000" stroke-width="1.05"/>
<path d="M399.5 289.3V291.4" stroke="#000" stroke-width="1.05"/>
<path d="M402.5 289.3V291.4" stroke="#000" stroke-width="1.05"/>
<path d="M462.5 296.4V298.5" stroke="#000" stroke-width="1.05"/>
<path d="M466.5 296.4V298.5" stroke="#000" stroke-width="1.05"/>
<path d="M475.5 301.6V303.7" stroke="#000" stroke-width="1.05"/>
<path d="M479.5 301.6V303.7" stroke="#000" stroke-width="1.05"/>
<path d="M482.5 301.6V303.7" stroke="#000" stroke-width="1.05"/>
<path d="M370.5 281.1V283.2" stroke="#000" stroke-width="1.05"/>
<path d="M381.5 288V290.1" stroke="#000" stroke-width="1.05"/>
<path d="M392.5 293.5V295.6" stroke="#000" stroke-width="1.05"/>
<path d="M399.5 298.2V300.3" stroke="#000" stroke-width="1.05"/>
<path d="M408.5 301.1V303.2" stroke="#000" stroke-width="1.05"/>
<path d="M413.5 302.5V304.6" stroke="#000" stroke-width="1.05"/>
<path d="M420.5 304.3V306.4" stroke="#000" stroke-width="1.05"/>
<path d="M428.5 305V307.1" stroke="#000" stroke-width="1.05"/>
<path d="M437.5 305.5V307.6" stroke="#000" stroke-width="1.05"/>
<path d="M439.5 305.6V307.7" stroke="#000" stroke-width="1.05"/>
<path d="M445.5 306.3V308.4" stroke="#000" stroke-width="1.05"/>
<path d="M450.5 306.8V308.9" stroke="#000" stroke-width="1.05"/>
<path d="M459.5 308.9V311" stroke="#000" stroke-width="1.05"/>
<path d="M466.5 310.1V312.2" stroke="#000" stroke-width="1.05"/>
<path d="M470.5 310.1V312.2" stroke="#000" stroke-width="1.05"/>
<path d="M473.5 310.1V312.2" stroke="#000" stroke-width="1.05"/>
<path d="M477.5 310.1V312.2" stroke="#000" stroke-width="1.05"/>
<path d="M481.5 310.1V312.2" stroke="#000" stroke-width="1.05"/>
<path d="M498.5 310.1V312.2" stroke="#000" stroke-width="1.05"/>
<text x="30.3" y="448.1" font-size="11.4" fill="#000" stroke="#000" stroke-width="0.45" font-weight="bold">C</text>
<path d="M61.5 453.8V566.2H250.8" fill="none" stroke="#111" stroke-width="1.3"/>
<path d="M58 562.5H61.5" stroke="#111" stroke-width="1"/>
<text x="55" y="564.95" font-size="6.8" fill="#111" stroke="#111" stroke-width="0.18" text-anchor="end">0.00</text>
<path d="M58 536.25H61.5" stroke="#111" stroke-width="1"/>
<text x="55" y="538.7" font-size="6.8" fill="#111" stroke="#111" stroke-width="0.18" text-anchor="end">0.25</text>
<path d="M58 510H61.5" stroke="#111" stroke-width="1"/>
<text x="55" y="512.45" font-size="6.8" fill="#111" stroke="#111" stroke-width="0.18" text-anchor="end">0.50</text>
<path d="M58 483.75H61.5" stroke="#111" stroke-width="1"/>
<text x="55" y="486.2" font-size="6.8" fill="#111" stroke="#111" stroke-width="0.18" text-anchor="end">0.75</text>
<path d="M58 457.5H61.5" stroke="#111" stroke-width="1"/>
<text x="55" y="459.95" font-size="6.8" fill="#111" stroke="#111" stroke-width="0.18" text-anchor="end">1.00</text>
<path d="M65.2 566.2V569.4" stroke="#111" stroke-width="1"/>
<text x="65.2" y="578.15" font-size="6.8" fill="#111" stroke="#111" stroke-width="0.18" text-anchor="middle">0</text>
<path d="M101.62 566.2V569.4" stroke="#111" stroke-width="1"/>
<text x="101.62" y="578.15" font-size="6.8" fill="#111" stroke="#111" stroke-width="0.18" text-anchor="middle">1</text>
<path d="M138.04 566.2V569.4" stroke="#111" stroke-width="1"/>
<text x="138.04" y="578.15" font-size="6.8" fill="#111" stroke="#111" stroke-width="0.18" text-anchor="middle">2</text>
<path d="M174.46 566.2V569.4" stroke="#111" stroke-width="1"/>
<text x="174.46" y="578.15" font-size="6.8" fill="#111" stroke="#111" stroke-width="0.18" text-anchor="middle">3</text>
<path d="M210.88 566.2V569.4" stroke="#111" stroke-width="1"/>
<text x="210.88" y="578.15" font-size="6.8" fill="#111" stroke="#111" stroke-width="0.18" text-anchor="middle">4</text>
<path d="M247.3 566.2V569.4" stroke="#111" stroke-width="1"/>
<text x="247.3" y="578.15" font-size="6.8" fill="#111" stroke="#111" stroke-width="0.18" text-anchor="middle">5</text>
<text x="0" y="0" font-size="8.9" fill="#1a1a1a" stroke="#1a1a1a" stroke-width="0.22" text-anchor="middle" textLength="46.6" lengthAdjust="spacingAndGlyphs" transform="translate(36.7 510) rotate(-90)">Probability of EFS</text>
<text x="156.15" y="590" font-size="9" fill="#111" stroke="#111" stroke-width="0.3" text-anchor="middle" textLength="14.1" lengthAdjust="spacingAndGlyphs" font-weight="bold">Years</text>
<text x="55.8" y="600.2" font-size="6.1" fill="#1a1a1a" stroke="#1a1a1a" stroke-width="0.05" text-anchor="end" textLength="18.6" lengthAdjust="spacingAndGlyphs"># at risk</text>
<text x="55.8" y="608.75" font-size="6.1" fill="#1a1a1a" stroke="#1a1a1a" stroke-width="0.05" text-anchor="end" textLength="30.7" lengthAdjust="spacingAndGlyphs">Standard-risk</text>
<text x="65.2" y="608.65" font-size="5.9" fill="#1a1a1a" stroke="#1a1a1a" stroke-width="0.05" text-anchor="middle">246</text>
<text x="101.62" y="608.65" font-size="5.9" fill="#1a1a1a" stroke="#1a1a1a" stroke-width="0.05" text-anchor="middle">141</text>
<text x="138.04" y="608.65" font-size="5.9" fill="#1a1a1a" stroke="#1a1a1a" stroke-width="0.05" text-anchor="middle">98</text>
<text x="174.46" y="608.65" font-size="5.9" fill="#1a1a1a" stroke="#1a1a1a" stroke-width="0.05" text-anchor="middle">68</text>
<text x="210.88" y="608.65" font-size="5.9" fill="#1a1a1a" stroke="#1a1a1a" stroke-width="0.05" text-anchor="middle">30</text>
<text x="247.3" y="608.65" font-size="5.9" fill="#1a1a1a" stroke="#1a1a1a" stroke-width="0.05" text-anchor="middle">10</text>
<text x="55.8" y="617.75" font-size="6.1" fill="#1a1a1a" stroke="#1a1a1a" stroke-width="0.05" text-anchor="end" textLength="20.1" lengthAdjust="spacingAndGlyphs">High-risk</text>
<text x="65.2" y="617.65" font-size="5.9" fill="#1a1a1a" stroke="#1a1a1a" stroke-width="0.05" text-anchor="middle">247</text>
<text x="101.62" y="617.65" font-size="5.9" fill="#1a1a1a" stroke="#1a1a1a" stroke-width="0.05" text-anchor="middle">71</text>
<text x="138.04" y="617.65" font-size="5.9" fill="#1a1a1a" stroke="#1a1a1a" stroke-width="0.05" text-anchor="middle">40</text>
<text x="174.46" y="617.65" font-size="5.9" fill="#1a1a1a" stroke="#1a1a1a" stroke-width="0.05" text-anchor="middle">25</text>
<text x="210.88" y="617.65" font-size="5.9" fill="#1a1a1a" stroke="#1a1a1a" stroke-width="0.05" text-anchor="middle">11</text>
<text x="247.3" y="617.65" font-size="5.9" fill="#1a1a1a" stroke="#1a1a1a" stroke-width="0.05" text-anchor="middle">1</text>
<path d="M100.9 625.2H122.5" stroke="#1c3a80" stroke-width="1.45"/>
<text x="125.7" y="626.95" font-size="6.1" fill="#1a1a1a" stroke="#1a1a1a" stroke-width="0.05" textLength="30.5" lengthAdjust="spacingAndGlyphs">Standard-risk</text>
<path d="M166.4 625.2H188" stroke="#e2911a" stroke-width="1.45"/>
<text x="191.2" y="626.95" font-size="6.1" fill="#1a1a1a" stroke="#1a1a1a" stroke-width="0.05" textLength="20.2" lengthAdjust="spacingAndGlyphs">High-risk</text>
<polyline points="65.5,457.5 67,458.5 68.2,464.5 68.9,467.5 71.2,469.5 72.8,472.5 74.7,475.5 76.2,478.5 79.7,479.5 82.8,482.5 86.9,488.5 90.8,492.5 93.5,497.5 97.7,498.5 100.8,501.5 103.1,503.5 106.2,505.5 110,507.5 113,508.5 118.9,509.5 124.1,515.5 128.8,516.5 132.5,519.5 138.8,520.5 145,522.5 150,525.5 158.8,525.5 168.8,526.5 185,526.5 191.3,528.5 198.8,528.5 200,530.5 203.8,531.5 236.3,531.5 238.8,532.5 241.3,535.5 247.5,535.5" fill="none" stroke="#1c3a80" stroke-width="1.6" stroke-linejoin="round"/>
<polyline points="65.5,457.5 67,458.5 68.2,469.5 69.3,479.5 70,486.5 72.3,492.5 73.5,501.5 75.4,502.5 77.7,507.5 80.8,510.5 83.8,511.5 86.2,513.5 87.7,517.5 92.3,520.5 94.1,526.5 97.5,529.5 101.8,531.5 103.3,534.5 108.1,537.5 113.8,539.5 120.6,541.5 127.3,544.5 135,544.5 143.8,546.5 156.3,547.5 185,547.5 197.5,547.5 198.8,548.5 206.3,549.5 216.3,549.5 217.5,551.5 247.5,551.5" fill="none" stroke="#e2911a" stroke-width="1.6" stroke-linejoin="round"/>
<path d="M138.5 518.5V520.6" stroke="#000" stroke-width="1.05"/>
<path d="M145.5 520.8V522.9" stroke="#000" stroke-width="1.05"/>
<path d="M148.5 522V524.1" stroke="#000" stroke-width="1.05"/>
<path d="M150.5 523V525.1" stroke="#000" stroke-width="1.05"/>
<path d="M152.5 523.3V525.4" stroke="#000" stroke-width="1.05"/>
<path d="M156.5 523.6V525.7" stroke="#000" stroke-width="1.05"/>
<path d="M160.5 523.8V525.9" stroke="#000" stroke-width="1.05"/>
<path d="M162.5 523.8V525.9" stroke="#000" stroke-width="1.05"/>
<path d="M168.5 524.3V526.4" stroke="#000" stroke-width="1.05"/>
<path d="M174.5 524.3V526.4" stroke="#000" stroke-width="1.05"/>
<path d="M177.5 524.3V526.4" stroke="#000" stroke-width="1.05"/>
<path d="M180.5 524.3V526.4" stroke="#000" stroke-width="1.05"/>
<path d="M184.5 524.3V526.4" stroke="#000" stroke-width="1.05"/>
<path d="M187.5 525V527.1" stroke="#000" stroke-width="1.05"/>
<path d="M190.5 526V528.1" stroke="#000" stroke-width="1.05"/>
<path d="M193.5 526.1V528.2" stroke="#000" stroke-width="1.05"/>
<path d="M196.5 526.1V528.2" stroke="#000" stroke-width="1.05"/>
<path d="M200.5 528V530.1" stroke="#000" stroke-width="1.05"/>
<path d="M203.5 529.3V531.4" stroke="#000" stroke-width="1.05"/>
<path d="M216.5 529.3V531.4" stroke="#000" stroke-width="1.05"/>
<path d="M218.5 529.3V531.4" stroke="#000" stroke-width="1.05"/>
<path d="M222.5 529.3V531.4" stroke="#000" stroke-width="1.05"/>
<path d="M226.5 529.3V531.4" stroke="#000" stroke-width="1.05"/>
<path d="M230.5 529.3V531.4" stroke="#000" stroke-width="1.05"/>
<path d="M234.5 529.3V531.4" stroke="#000" stroke-width="1.05"/>
<path d="M238.5 530.5V532.6" stroke="#000" stroke-width="1.05"/>
<path d="M242.5 533.3V535.4" stroke="#000" stroke-width="1.05"/>
<path d="M245.5 533.3V535.4" stroke="#000" stroke-width="1.05"/>
<path d="M92.5 518.8V520.9" stroke="#000" stroke-width="1.05"/>
<path d="M144.5 544.3V546.4" stroke="#000" stroke-width="1.05"/>
<path d="M147.5 544.5V546.6" stroke="#000" stroke-width="1.05"/>
<path d="M150.5 545V547.1" stroke="#000" stroke-width="1.05"/>
<path d="M159.5 545.3V547.4" stroke="#000" stroke-width="1.05"/>
<path d="M170.5 545.3V547.4" stroke="#000" stroke-width="1.05"/>
<path d="M175.5 545.3V547.4" stroke="#000" stroke-width="1.05"/>
<path d="M181.5 545.3V547.4" stroke="#000" stroke-width="1.05"/>
<path d="M187.5 545.3V547.4" stroke="#000" stroke-width="1.05"/>
<path d="M189.5 545.3V547.4" stroke="#000" stroke-width="1.05"/>
<path d="M196.5 545.5V547.6" stroke="#000" stroke-width="1.05"/>
<path d="M208.5 547V549.1" stroke="#000" stroke-width="1.05"/>
<path d="M211.5 547V549.1" stroke="#000" stroke-width="1.05"/>
<path d="M217.5 549V551.1" stroke="#000" stroke-width="1.05"/>
<path d="M221.5 549V551.1" stroke="#000" stroke-width="1.05"/>
<path d="M225.5 549V551.1" stroke="#000" stroke-width="1.05"/>
<path d="M229.5 549V551.1" stroke="#000" stroke-width="1.05"/>
<path d="M232.5 549V551.1" stroke="#000" stroke-width="1.05"/>
<text x="290.3" y="448.1" font-size="11.4" fill="#000" stroke="#000" stroke-width="0.45" font-weight="bold">F</text>
<path d="M320.7 453.8V566.2H510.7" fill="none" stroke="#111" stroke-width="1.3"/>
<path d="M317.2 562.5H320.7" stroke="#111" stroke-width="1"/>
<text x="314.5" y="564.95" font-size="6.8" fill="#111" stroke="#111" stroke-width="0.18" text-anchor="end">0.00</text>
<path d="M317.2 536.25H320.7" stroke="#111" stroke-width="1"/>
<text x="314.5" y="538.7" font-size="6.8" fill="#111" stroke="#111" stroke-width="0.18" text-anchor="end">0.25</text>
<path d="M317.2 510H320.7" stroke="#111" stroke-width="1"/>
<text x="314.5" y="512.45" font-size="6.8" fill="#111" stroke="#111" stroke-width="0.18" text-anchor="end">0.50</text>
<path d="M317.2 483.75H320.7" stroke="#111" stroke-width="1"/>
<text x="314.5" y="486.2" font-size="6.8" fill="#111" stroke="#111" stroke-width="0.18" text-anchor="end">0.75</text>
<path d="M317.2 457.5H320.7" stroke="#111" stroke-width="1"/>
<text x="314.5" y="459.95" font-size="6.8" fill="#111" stroke="#111" stroke-width="0.18" text-anchor="end">1.00</text>
<path d="M324.4 566.2V569.4" stroke="#111" stroke-width="1"/>
<text x="324.4" y="578.15" font-size="6.8" fill="#111" stroke="#111" stroke-width="0.18" text-anchor="middle">0</text>
<path d="M360.4 566.2V569.4" stroke="#111" stroke-width="1"/>
<text x="360.4" y="578.15" font-size="6.8" fill="#111" stroke="#111" stroke-width="0.18" text-anchor="middle">1</text>
<path d="M396.4 566.2V569.4" stroke="#111" stroke-width="1"/>
<text x="396.4" y="578.15" font-size="6.8" fill="#111" stroke="#111" stroke-width="0.18" text-anchor="middle">2</text>
<path d="M432.4 566.2V569.4" stroke="#111" stroke-width="1"/>
<text x="432.4" y="578.15" font-size="6.8" fill="#111" stroke="#111" stroke-width="0.18" text-anchor="middle">3</text>
<path d="M468.4 566.2V569.4" stroke="#111" stroke-width="1"/>
<text x="468.4" y="578.15" font-size="6.8" fill="#111" stroke="#111" stroke-width="0.18" text-anchor="middle">4</text>
<path d="M504.4 566.2V569.4" stroke="#111" stroke-width="1"/>
<text x="504.4" y="578.15" font-size="6.8" fill="#111" stroke="#111" stroke-width="0.18" text-anchor="middle">5</text>
<text x="0" y="0" font-size="8.9" fill="#1a1a1a" stroke="#1a1a1a" stroke-width="0.22" text-anchor="middle" textLength="56.7" lengthAdjust="spacingAndGlyphs" transform="translate(296 510) rotate(-90)">Probability of survival</text>
<text x="415.7" y="590" font-size="9" fill="#111" stroke="#111" stroke-width="0.3" text-anchor="middle" textLength="14.1" lengthAdjust="spacingAndGlyphs" font-weight="bold">Years</text>
<text x="315.2" y="600.4" font-size="6.1" fill="#1a1a1a" stroke="#1a1a1a" stroke-width="0.05" text-anchor="end" textLength="18.6" lengthAdjust="spacingAndGlyphs"># at risk</text>
<text x="315.2" y="608.95" font-size="6.1" fill="#1a1a1a" stroke="#1a1a1a" stroke-width="0.05" text-anchor="end" textLength="30.4" lengthAdjust="spacingAndGlyphs">Standard-risk</text>
<text x="324.4" y="608.85" font-size="5.9" fill="#1a1a1a" stroke="#1a1a1a" stroke-width="0.05" text-anchor="middle">246</text>
<text x="360.4" y="608.85" font-size="5.9" fill="#1a1a1a" stroke="#1a1a1a" stroke-width="0.05" text-anchor="middle">171</text>
<text x="396.4" y="608.85" font-size="5.9" fill="#1a1a1a" stroke="#1a1a1a" stroke-width="0.05" text-anchor="middle">140</text>
<text x="432.4" y="608.85" font-size="5.9" fill="#1a1a1a" stroke="#1a1a1a" stroke-width="0.05" text-anchor="middle">89</text>
<text x="468.4" y="608.85" font-size="5.9" fill="#1a1a1a" stroke="#1a1a1a" stroke-width="0.05" text-anchor="middle">48</text>
<text x="504.4" y="608.85" font-size="5.9" fill="#1a1a1a" stroke="#1a1a1a" stroke-width="0.05" text-anchor="middle">17</text>
<text x="315.2" y="617.85" font-size="6.1" fill="#1a1a1a" stroke="#1a1a1a" stroke-width="0.05" text-anchor="end" textLength="20.2" lengthAdjust="spacingAndGlyphs">High-risk</text>
<text x="324.4" y="617.75" font-size="5.9" fill="#1a1a1a" stroke="#1a1a1a" stroke-width="0.05" text-anchor="middle">247</text>
<text x="360.4" y="617.75" font-size="5.9" fill="#1a1a1a" stroke="#1a1a1a" stroke-width="0.05" text-anchor="middle">137</text>
<text x="396.4" y="617.75" font-size="5.9" fill="#1a1a1a" stroke="#1a1a1a" stroke-width="0.05" text-anchor="middle">81</text>
<text x="432.4" y="617.75" font-size="5.9" fill="#1a1a1a" stroke="#1a1a1a" stroke-width="0.05" text-anchor="middle">43</text>
<text x="468.4" y="617.75" font-size="5.9" fill="#1a1a1a" stroke="#1a1a1a" stroke-width="0.05" text-anchor="middle">20</text>
<text x="504.4" y="617.75" font-size="5.9" fill="#1a1a1a" stroke="#1a1a1a" stroke-width="0.05" text-anchor="middle">4</text>
<path d="M360.4 625.2H382" stroke="#1c3a80" stroke-width="1.45"/>
<text x="385.2" y="626.95" font-size="6.1" fill="#1a1a1a" stroke="#1a1a1a" stroke-width="0.05" textLength="30.5" lengthAdjust="spacingAndGlyphs">Standard-risk</text>
<path d="M426.4 625.2H448" stroke="#e2911a" stroke-width="1.45"/>
<text x="451.2" y="626.95" font-size="6.1" fill="#1a1a1a" stroke="#1a1a1a" stroke-width="0.05" textLength="20.2" lengthAdjust="spacingAndGlyphs">High-risk</text>
<polyline points="325.1,457.5 326.5,460.5 327.4,463.5 330.5,464.5 333.5,465.5 335.1,467.5 337.4,468.5 340.5,470.5 342.8,474.5 345.8,476.5 348.2,479.5 351.2,479.5 352.3,484.5 354.6,486.5 357.7,486.5 360,488.5 365.4,490.5 371.5,494.5 375.4,495.5 379.2,496.5 382.3,497.5 386.9,498.5 390,500.5 397.5,501.5 399.4,503.5 403.8,504.5 408.8,506.5 416.3,506.5 421.3,509.5 426.3,513.5 431.3,514.5 437.5,515.5 445,516.5 453.8,516.5 455,516.5 462.5,517.5 472.5,517.5 473.8,519.5 483.8,519.5 485,520.5 491.3,521.5 493.8,523.5 498.8,523.5 500,525.5 502.5,527.5 507.5,527.5" fill="none" stroke="#1c3a80" stroke-width="1.6" stroke-linejoin="round"/>
<polyline points="325.1,457.5 326.2,460.5 326.6,464.5 327.4,468.5 329.7,470.5 332,474.5 334.3,475.5 338.2,477.5 340.5,480.5 344.3,484.5 345.1,486.5 348.2,489.5 350,491.5 352.3,493.5 354.6,496.5 356.9,500.5 360,503.5 362.3,506.5 366.2,508.5 369.2,510.5 372.3,512.5 376.2,514.5 379.2,517.5 383.1,519.5 386,521.5 391.3,523.5 397.5,526.5 402.5,530.5 410,531.5 417.5,535.5 426.3,537.5 435,538.5 442.5,539.5 452.5,540.5 463.8,542.5 471.3,544.5 481.3,545.5 507.5,545.5" fill="none" stroke="#e2911a" stroke-width="1.6" stroke-linejoin="round"/>
<path d="M357.5 484.2V486.3" stroke="#000" stroke-width="1.05"/>
<path d="M393.5 498.5V500.6" stroke="#000" stroke-width="1.05"/>
<path d="M397.5 499V501.1" stroke="#000" stroke-width="1.05"/>
<path d="M403.5 502V504.1" stroke="#000" stroke-width="1.05"/>
<path d="M406.5 503.5V505.6" stroke="#000" stroke-width="1.05"/>
<path d="M410.5 504.9V507" stroke="#000" stroke-width="1.05"/>
<path d="M413.5 504.9V507" stroke="#000" stroke-width="1.05"/>
<path d="M418.5 505.5V507.6" stroke="#000" stroke-width="1.05"/>
<path d="M420.5 506.5V508.6" stroke="#000" stroke-width="1.05"/>
<path d="M428.5 511.5V513.6" stroke="#000" stroke-width="1.05"/>
<path d="M432.5 512.8V514.9" stroke="#000" stroke-width="1.05"/>
<path d="M435.5 513V515.1" stroke="#000" stroke-width="1.05"/>
<path d="M439.5 513.3V515.4" stroke="#000" stroke-width="1.05"/>
<path d="M442.5 513.6V515.7" stroke="#000" stroke-width="1.05"/>
<path d="M446.5 514V516.1" stroke="#000" stroke-width="1.05"/>
<path d="M449.5 514V516.1" stroke="#000" stroke-width="1.05"/>
<path d="M452.5 514.3V516.4" stroke="#000" stroke-width="1.05"/>
<path d="M456.5 514.9V517" stroke="#000" stroke-width="1.05"/>
<path d="M459.5 515V517.1" stroke="#000" stroke-width="1.05"/>
<path d="M464.5 515.5V517.6" stroke="#000" stroke-width="1.05"/>
<path d="M468.5 515.6V517.7" stroke="#000" stroke-width="1.05"/>
<path d="M473.5 517.4V519.5" stroke="#000" stroke-width="1.05"/>
<path d="M476.5 517.4V519.5" stroke="#000" stroke-width="1.05"/>
<path d="M479.5 517.4V519.5" stroke="#000" stroke-width="1.05"/>
<path d="M482.5 517.8V519.9" stroke="#000" stroke-width="1.05"/>
<path d="M487.5 518.8V520.9" stroke="#000" stroke-width="1.05"/>
<path d="M490.5 519.3V521.4" stroke="#000" stroke-width="1.05"/>
<path d="M495.5 521.6V523.7" stroke="#000" stroke-width="1.05"/>
<path d="M501.5 524V526.1" stroke="#000" stroke-width="1.05"/>
<path d="M505.5 525.3V527.4" stroke="#000" stroke-width="1.05"/>
<path d="M351.5 489V491.1" stroke="#000" stroke-width="1.05"/>
<path d="M365.5 505.5V507.6" stroke="#000" stroke-width="1.05"/>
<path d="M377.5 513V515.1" stroke="#000" stroke-width="1.05"/>
<path d="M404.5 528.8V530.9" stroke="#000" stroke-width="1.05"/>
<path d="M406.5 529V531.1" stroke="#000" stroke-width="1.05"/>
<path d="M410.5 529.9V532" stroke="#000" stroke-width="1.05"/>
<path d="M414.5 531.5V533.6" stroke="#000" stroke-width="1.05"/>
<path d="M417.5 533V535.1" stroke="#000" stroke-width="1.05"/>
<path d="M425.5 535.5V537.6" stroke="#000" stroke-width="1.05"/>
<path d="M433.5 536.5V538.6" stroke="#000" stroke-width="1.05"/>
<path d="M437.5 536.8V538.9" stroke="#000" stroke-width="1.05"/>
<path d="M442.5 537.8V539.9" stroke="#000" stroke-width="1.05"/>
<path d="M447.5 538.2V540.3" stroke="#000" stroke-width="1.05"/>
<path d="M452.5 538.6V540.7" stroke="#000" stroke-width="1.05"/>
<path d="M457.5 539V541.1" stroke="#000" stroke-width="1.05"/>
<path d="M463.5 540.3V542.4" stroke="#000" stroke-width="1.05"/>
<path d="M470.5 542V544.1" stroke="#000" stroke-width="1.05"/>
<path d="M473.5 542V544.1" stroke="#000" stroke-width="1.05"/>
<path d="M482.5 543V545.1" stroke="#000" stroke-width="1.05"/>
<path d="M485.5 543V545.1" stroke="#000" stroke-width="1.05"/>
<path d="M488.5 543V545.1" stroke="#000" stroke-width="1.05"/>
<path d="M492.5 543V545.1" stroke="#000" stroke-width="1.05"/>
<path d="M503.5 543V545.1" stroke="#000" stroke-width="1.05"/>
</svg>
</body></html>
